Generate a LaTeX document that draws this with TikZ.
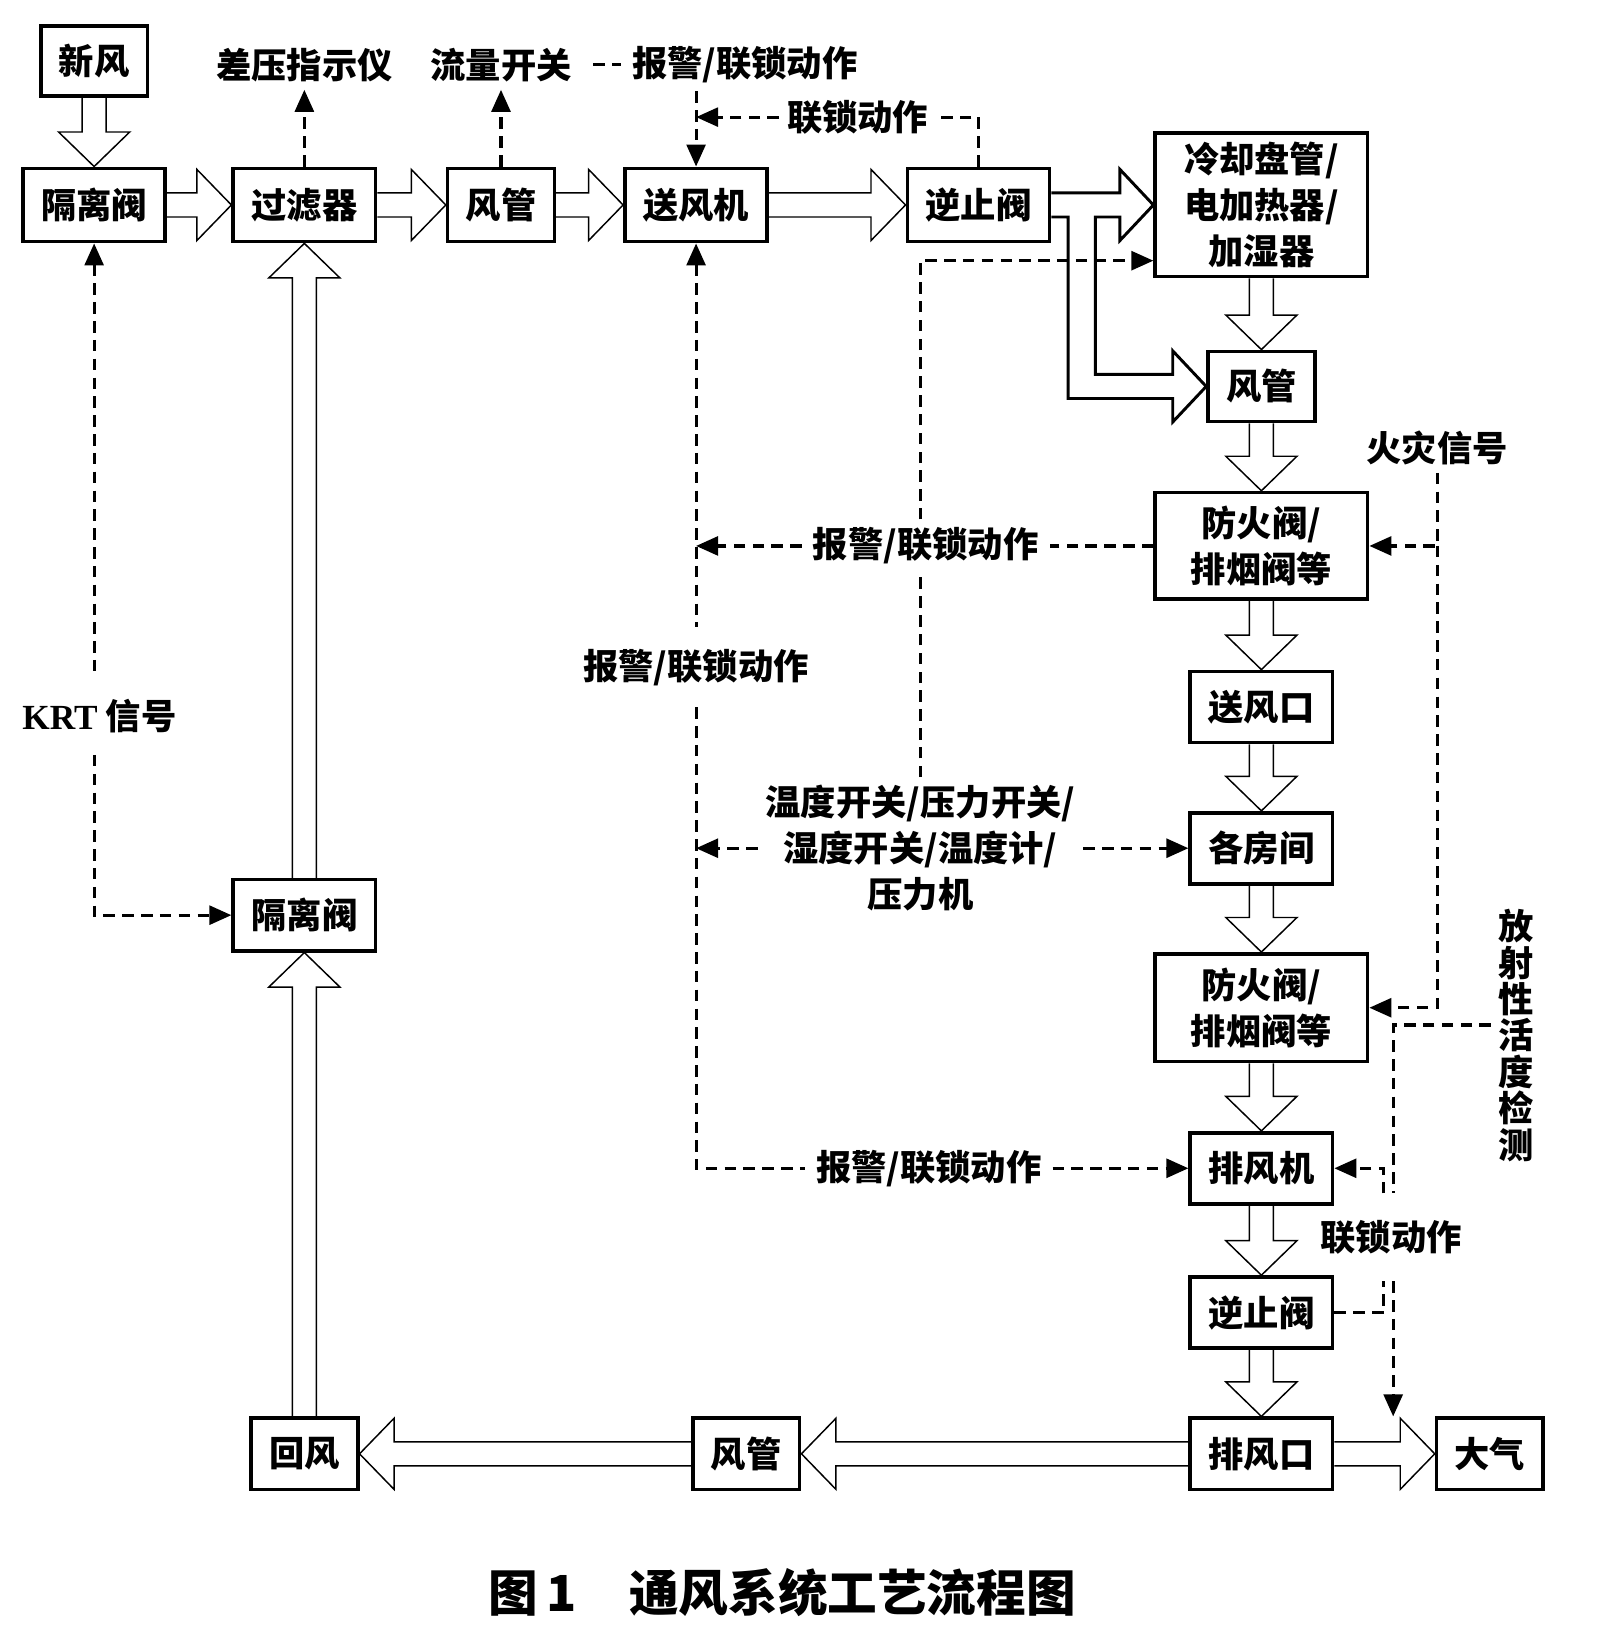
\documentclass[tikz,border=0pt]{standalone}
\usepackage{fontspec}
\setmainfont{Noto Sans CJK SC}
\newfontfamily\latinfont{Liberation Serif}
\usetikzlibrary{arrows.meta, calc}

\begin{document}
\begin{tikzpicture}[
  >={Triangle[length=0.21cm, width=0.18cm]},
  font=\fontsize{9.6pt}{12.5pt}\selectfont\bfseries,
  unit/.style={draw, line width=1pt, align=center, inner sep=0pt, minimum height=0.68cm},
  narrow/.style={unit, minimum width=1.02cm},
  medium/.style={unit, minimum width=1.36cm},
  wide/.style={unit, minimum width=2.03cm},
  note/.style={align=center, inner sep=2pt},
  sig/.style={line width=0.85pt, dash pattern=on 0.11cm off 0.07cm},
  pipeline/.style={line width=0.8pt},
  pipe/.style={pipeline, to path={
    ($(\tikztostart)!0.115cm!90:(\tikztotarget)$)
    -- ($($(\tikztotarget)!0.33cm!(\tikztostart)$)!0.115cm!90:(\tikztotarget)$)
    -- ($($(\tikztotarget)!0.33cm!(\tikztostart)$)!0.34cm!90:(\tikztotarget)$)
    -- (\tikztotarget)
    -- ($($(\tikztotarget)!0.33cm!(\tikztostart)$)!0.34cm!-90:(\tikztotarget)$)
    -- ($($(\tikztotarget)!0.33cm!(\tikztostart)$)!0.115cm!-90:(\tikztotarget)$)
    -- ($(\tikztostart)!0.115cm!-90:(\tikztotarget)$)}}
]
  \useasboundingbox (0,0) rectangle (15.28,15.68);

  % supply side
  \node[narrow, minimum height=0.67cm] (fresh) at (0.90,15.095) {新风};
  \node[medium, minimum height=0.70cm] (gateTop) at (0.90,13.72) {隔离阀};
  \node[medium, minimum height=0.70cm] (filter) at (2.91,13.72) {过滤器};
  \node[narrow, minimum height=0.70cm] (ductT) at (4.79,13.72) {风管};
  \node[medium, minimum height=0.70cm] (fan) at (6.655,13.72) {送风机};
  \node[medium, minimum height=0.70cm] (checkT) at (9.355,13.72) {逆止阀};
  \node[wide, minimum height=1.37cm] (coil) at (12.06,13.72) {冷却盘管/\\电加热器/\\加湿器};
  \node[narrow, minimum height=0.67cm] (ductR) at (12.06,11.985) {风管};
  \node[wide, minimum height=1.02cm] (damper1) at (12.06,10.46) {防火阀/\\排烟阀等};
  \node[medium] (outlet) at (12.06,8.92) {送风口};
  \node[medium] (rooms) at (12.06,7.57) {各房间};

  % exhaust side
  \node[wide, minimum height=1.03cm] (damper2) at (12.06,6.045) {防火阀/\\排烟阀等};
  \node[medium] (exfan) at (12.06,4.51) {排风机};
  \node[medium] (checkB) at (12.06,3.13) {逆止阀};
  \node[medium] (exhaust) at (12.06,1.78) {排风口};
  \node[narrow] (atmos) at (14.245,1.78) {大气};
  \node[narrow] (ductB) at (7.135,1.78) {风管};
  \node[narrow] (ret) at (2.91,1.78) {回风};
  \node[medium] (gateMid) at (2.91,6.93) {隔离阀};

  % signal texts
  \node[note] (dp) at (2.91,15.06) {差压指示仪};
  \node[note, inner xsep=0.2cm] (flowsw) at (4.79,15.06) {流量开关};
  \node[note, inner xsep=0.1cm] (alarmT) at (7.12,15.06) {报警/联锁动作};
  \node[note] (lockT) at (8.20,14.56) {联锁动作};
  \node[note, inner ysep=0.2cm] (krt) at (0.95,8.83) {{\latinfont KRT} 信号};
  \node[note, inner ysep=0.2cm] (alarmL) at (6.655,9.30) {报警/联锁动作};
  \node[note, inner xsep=0.1cm] (alarmR) at (8.85,10.46) {报警/联锁动作};
  \node[note] (fire) at (13.74,11.40) {火灾信号};
  \node[note] (sensors) at (8.80,7.57) {温度开关/压力开关/\\湿度开关/温度计/\\压力机};
  \node[note, inner xsep=0.1cm] (alarmB) at (8.88,4.51) {报警/联锁动作};
  \node[note, inner ysep=0.25cm] (lockR) at (13.30,3.85) {联锁动作};
  \node[note, font=\fontsize{9.6pt}{9.9pt}\selectfont\bfseries] (radio) at (14.50,5.78)
    {放\\射\\性\\活\\度\\检\\测};
  \coordinate (radioTurn) at (13.32,5.88);
  \coordinate (lockTurn) at (13.23,3.13);

  \node[font=\fontsize{13.5pt}{15pt}\selectfont\bfseries] (caption) at (7.48,0.45)
    {图\,1\hspace{0.5cm}通风系统工艺流程图};

  % air flow
  \draw (fresh.south) to[pipe] (gateTop.north);
  \draw (gateTop.east) to[pipe] (filter.west);
  \draw (filter.east) to[pipe] (ductT.west);
  \draw (ductT.east) to[pipe] (fan.west);
  \draw (fan.east) to[pipe] (checkT.west);
  \draw[pipeline] ([yshift=0.115cm]checkT.east) -- ([xshift=-0.32cm,yshift=0.115cm]coil.west)
    -- ([xshift=-0.32cm,yshift=0.34cm]coil.west) -- (coil.west)
    -- ([xshift=-0.32cm,yshift=-0.34cm]coil.west) -- ([xshift=-0.32cm,yshift=-0.115cm]coil.west)
    -- ([xshift=0.42cm,yshift=-0.115cm]checkT.east) |- ([xshift=-0.32cm,yshift=0.115cm]ductR.west)
    -- ([xshift=-0.32cm,yshift=0.34cm]ductR.west) -- (ductR.west)
    -- ([xshift=-0.32cm,yshift=-0.34cm]ductR.west) -- ([xshift=-0.32cm,yshift=-0.115cm]ductR.west)
    -| ([xshift=0.16cm,yshift=-0.115cm]checkT.east) -- ([yshift=-0.115cm]checkT.east);
  \draw (coil.south) to[pipe] (ductR.north);
  \draw (ductR.south) to[pipe] (damper1.north);
  \draw (damper1.south) to[pipe] (outlet.north);
  \draw (outlet.south) to[pipe] (rooms.north);
  \draw (rooms.south) to[pipe] (damper2.north);
  \draw (damper2.south) to[pipe] (exfan.north);
  \draw (exfan.south) to[pipe] (checkB.north);
  \draw (checkB.south) to[pipe] (exhaust.north);
  \draw (exhaust.east) to[pipe] (atmos.west);
  \draw (exhaust.west) to[pipe] (ductB.east);
  \draw (ductB.west) to[pipe] (ret.east);
  \draw (ret.north) to[pipe] (gateMid.south);
  \draw (gateMid.north) to[pipe] (filter.south);

  % signals
  \draw[sig,->] (filter.north) -- (dp.south);
  \draw[sig,->] (ductT.north) -- (flowsw.south);
  \draw[sig] (flowsw.east) -- (alarmT.west);
  \draw[sig,->] (fan.north |- alarmT.south) -- (fan.north);
  \draw[sig] (checkT.north) |- (lockT.east);
  \draw[sig,->] (lockT.west) -- (lockT.west -| fan.north);
  \draw[sig,<-] (gateTop.south) -- (gateTop.south |- krt.north);
  \draw[sig,->] (gateTop.south |- krt.south) |- (gateMid.west);
  \draw[sig,<-] (fan.south) -- (alarmL.north);
  \draw[sig] (alarmL.south) |- (alarmB.west);
  \draw[sig,->] (alarmB.east) -- (exfan.west);
  \draw[sig] (damper1.west) -- (alarmR.east);
  \draw[sig,->] (alarmR.west) -- (alarmR.west -| fan.south);
  \draw[sig,->] (sensors.west |- rooms.west) -- (rooms.west -| fan.south);
  \draw[sig,->] (sensors.east |- rooms.west) -- (rooms.west);
  \draw[sig] (sensors.north) -- (sensors.north |- alarmR.south);
  \draw[sig,->] (sensors.north |- alarmR.north) |- ([yshift=0.17cm]coil.south west);
  \draw[sig,->] (fire.south) |- (damper1.east);
  \draw[sig,->] (fire.south |- damper1.east) |- (damper2.east);
  \draw[sig] (radio.west |- radioTurn) -- (radioTurn) -- (radioTurn |- lockR.north);
  \draw[sig,->] (radioTurn |- lockR.south) -- (radioTurn |- exhaust.north);
  \draw[sig] (checkB.east) -| (lockTurn |- lockR.south);
  \draw[sig,->] (lockTurn |- lockR.north) |- (exfan.east);
\end{tikzpicture}
\end{document}
